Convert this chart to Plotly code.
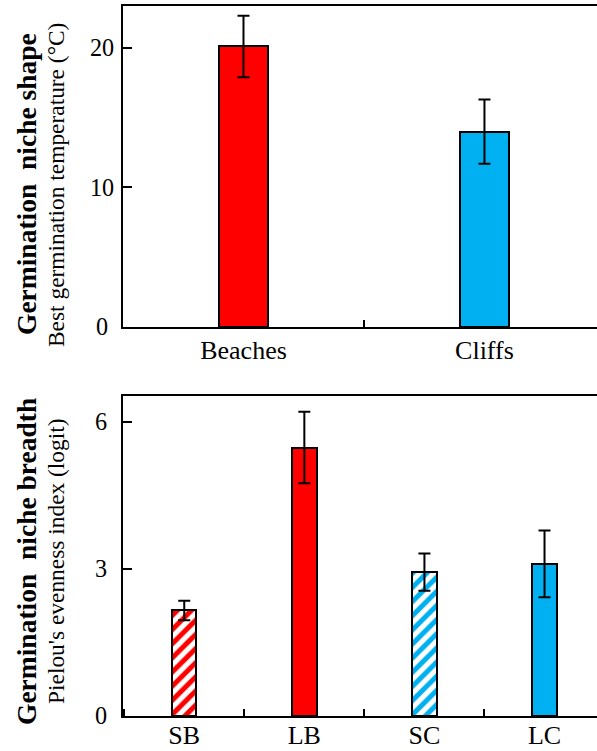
import plotly.graph_objects as go

# Top panel data
habitats = ["Beaches", "Cliffs"]
best_temp = [20.1, 14.0]
best_temp_err = [2.2, 2.3]
habitat_colors = ["#FF0000", "#00B0F0"]
temp_ticks = [0, 10, 20]
temp_ticklabels = ["0\u2008", "10", "20"]

# Bottom panel data
groups = ["SB", "LB", "SC", "LC"]
evenness = [2.15, 5.47, 2.93, 3.10]
evenness_err = [0.2, 0.73, 0.38, 0.68]
group_colors = ["#FF0000", "#FF0000", "#00B0F0", "#00B0F0"]
group_hatched = [True, False, True, False]
even_ticks = [0, 3, 6]

SY = 0.983                     # observed vertical photo scale
W, H = 597, round(751 / SY)
L = 123
FONT = "Liberation Serif, Times New Roman, serif"


def py(v):
    """reference pixel row -> paper fraction"""
    return 1 - (v / SY) / H


def px(v):
    return (v - L) / (W - L)


fig = go.Figure()

fig.add_trace(go.Bar(
    x=habitats, y=best_temp, width=0.205,
    marker=dict(color=habitat_colors, line=dict(color="black", width=2)),
    error_y=dict(type="data", array=best_temp_err, color="black", thickness=2, width=6),
    xaxis="x", yaxis="y", showlegend=False,
))

for g, v, e, c, h in zip(groups, evenness, evenness_err, group_colors, group_hatched):
    marker = dict(color="white" if h else c, line=dict(color="black", width=2))
    if h:
        marker["pattern"] = dict(shape="/", fgcolor=c, bgcolor="white", fgopacity=1,
                                 size=10, solidity=0.5, fillmode="overlay")
    fig.add_trace(go.Bar(
        x=[g], y=[v], width=0.203, marker=marker,
        error_y=dict(type="data", array=[e], color="black", thickness=2, width=6),
        xaxis="x2", yaxis="y2", showlegend=False,
    ))

axis_common = dict(showline=True, linecolor="black", linewidth=2, showgrid=False,
                   zeroline=False, tickfont=dict(family=FONT, size=24.2, color="black"))
xfont = dict(family=FONT, size=26, color="black")

fig.update_layout(
    width=W, height=H,
    margin=dict(l=L, r=0, t=0, b=0),
    paper_bgcolor="white", plot_bgcolor="white",
    barmode="overlay", bargap=0,
    xaxis=dict(domain=[0, 1], anchor="y", type="category", range=[-0.5, 1.467],
               categoryorder="array", categoryarray=habitats,
               mirror=True, ticks="inside", tickson="boundaries", ticklen=7,
               tickwidth=2, tickcolor="black", ticklabelstandoff=-1,
               **{**axis_common, "tickfont": xfont}),
    yaxis=dict(domain=[py(327), py(6)], anchor="x", range=[0, 23.0],
               tickvals=temp_ticks, ticktext=temp_ticklabels,
               ticks="inside", ticklen=9, tickwidth=2,
               tickcolor="black", ticklabelstandoff=2, **axis_common),
    xaxis2=dict(domain=[0, 1], anchor="y2", type="category", range=[-0.51, 3.437],
                categoryorder="array", categoryarray=groups,
                mirror=True, ticks="inside", tickson="boundaries", ticklen=7,
                tickwidth=2, tickcolor="black", ticklabelstandoff=-5,
                **{**axis_common, "tickfont": xfont}),
    yaxis2=dict(domain=[py(716), py(396)], anchor="x2", range=[0, 6.52],
                tickvals=even_ticks, ticks="inside", ticklen=9, tickwidth=2,
                tickcolor="black", ticklabelstandoff=9, **axis_common),
)

annots = [
    ("<b>Germination\u00a0 niche shape</b>", 27, 184, 27.5),
    ("Best germination temperature (\u00b0C)", 56, 185, 23.4),
    ("<b>Germination\u00a0 niche breadth</b>", 27, 562, 27.5),
    ("Pielou's evenness index (logit)", 56, 561, 23.4),
]
for text, x0, y0, size in annots:
    fig.add_annotation(
        text=text, xref="paper", yref="paper",
        x=px(x0), y=py(y0),
        xanchor="center", yanchor="middle", textangle=-90, showarrow=False,
        font=dict(family=FONT, size=size, color="black"),
    )

fig.write_html(
    "out.html",
    config={"displayModeBar": False},
    post_script="document.body.style.margin='0';document.body.style.overflow='hidden';",
)
